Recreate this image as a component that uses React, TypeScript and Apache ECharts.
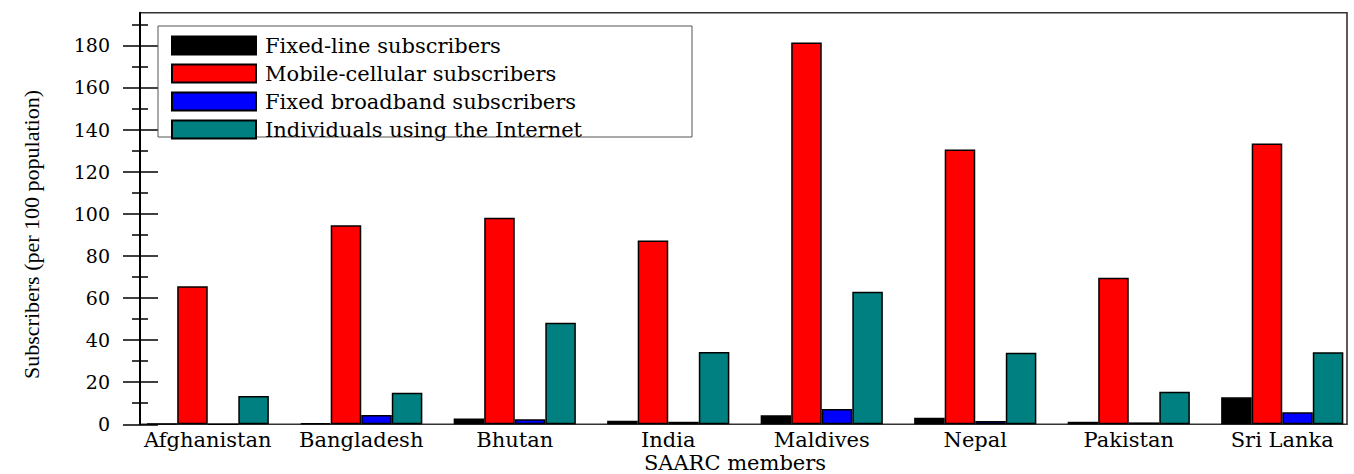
import React, { useEffect, useRef } from "react";
import * as echarts from "echarts";

const categories = ["Afghanistan", "Bangladesh", "Bhutan", "India", "Maldives", "Nepal", "Pakistan", "Sri Lanka"];
const seriesNames = [
  "Fixed-line subscribers",
  "Mobile-cellular subscribers",
  "Fixed broadband subscribers",
  "Individuals using the Internet",
];
const fixedLine = [0.3, 0.6, 2.8, 1.7, 4.3, 3.1, 1.2, 12.8];
const mobileCellular = [65.6, 94.6, 98.1, 87.3, 181.4, 130.5, 69.6, 133.4];
const fixedBroadband = [0, 4.4, 2.4, 1.2, 7.3, 1.6, 0.9, 5.7];
const internetUsers = [13.4, 15.0, 48.2, 34.3, 62.9, 34.0, 15.5, 34.2];
const seriesColors = ["#000000", "#ff0000", "#0000ff", "#008080"];
const majorTicks = [0, 20, 40, 60, 80, 100, 120, 140, 160, 180];
const minorTicks = [10, 30, 50, 70, 90, 110, 130, 150, 170, 190];

const SERIF = "DejaVu Serif";

export default function App() {
  const ref = useRef<HTMLDivElement>(null);
  useEffect(() => {
    if (!ref.current) return;
    const chart = echarts.init(ref.current, null, { renderer: "svg" });
    const yBase = {
      type: "value",
      min: 0,
      max: 195.5,
      position: "left",
      offset: -9,
      splitLine: { show: false },
    };
    const tickStyle = { color: "#000", width: 1.5 };
    const values = [fixedLine, mobileCellular, fixedBroadband, internetUsers];
    chart.setOption({
      animation: false,
      backgroundColor: "#ffffff",
      grid: { left: 131, top: 12.7, width: 1228, height: 411.6, containLabel: false, outerBoundsMode: "none" },
      legend: {
        orient: "vertical",
        left: 158,
        top: 26,
        z: 4,
        icon: "rect",
        itemWidth: 84,
        itemHeight: 18,
        itemGap: 7,
        padding: [9, 12, 9, 13],
        borderWidth: 0,
        selectedMode: false,
        data: seriesNames,
        textStyle: {
          fontFamily: SERIF,
          fontSize: 21,
          color: "#000",
          padding: [0, 0, 0, 4],
        },
      },
      xAxis: {
        type: "category",
        data: categories,
        axisLine: { show: false },
        axisTick: { show: false },
        axisLabel: { fontFamily: SERIF, fontSize: 21, lineHeight: 19, color: "#000", margin: 6, interval: 0 },
        name: "SAARC members",
        nameLocation: "middle",
        nameGap: 29,
        nameMoveOverlap: false,
        nameTextStyle: { fontFamily: SERIF, fontSize: 21, lineHeight: 19, color: "#000", padding: [0, 20, 0, 0] },
      },
      yAxis: [
        {
          ...yBase,
          axisLine: { show: true, lineStyle: { color: "#000", width: 2 } },
          axisTick: { show: true, inside: false, length: 17, customValues: majorTicks, lineStyle: tickStyle },
          axisLabel: { customValues: majorTicks, margin: 30, fontFamily: SERIF, fontSize: 19, color: "#000" },
          name: "Subscribers (per 100 population)",
          nameLocation: "middle",
          nameGap: 98,
          nameMoveOverlap: false,
          nameTextStyle: { fontFamily: "Liberation Serif", fontSize: 22, color: "#000", padding: [0, 32, 0, 0] },
        },
        {
          ...yBase,
          axisLine: { show: false },
          axisTick: { show: true, inside: true, length: 18, customValues: majorTicks, lineStyle: tickStyle },
          axisLabel: { show: false },
        },
        {
          ...yBase,
          axisLine: { show: false },
          axisTick: { show: true, inside: false, length: 8, customValues: minorTicks, lineStyle: tickStyle },
          axisLabel: { show: false },
        },
        {
          ...yBase,
          axisLine: { show: false },
          axisTick: { show: true, inside: true, length: 8, customValues: minorTicks, lineStyle: tickStyle },
          axisLabel: { show: false },
        },
      ],
      graphic: [
        {
          type: "rect",
          z: 0,
          silent: true,
          shape: { x: 140, y: 12.7, width: 1207, height: 411.6 },
          style: { fill: "none", stroke: "#333", lineWidth: 1.6 },
        },
        {
          type: "rect",
          z: 3,
          silent: true,
          shape: { x: 158, y: 26, width: 534, height: 111 },
          style: { fill: "#fff", stroke: "#555", lineWidth: 1 },
        },
      ],
      series: seriesNames.map((name, i) => ({
        name,
        type: "bar",
        yAxisIndex: 0,
        data: values[i],
        barGap: "0%",
        barCategoryGap: "20.4%",
        itemStyle: { color: seriesColors[i], borderColor: "#000", borderWidth: 1.5 },
      })),
    });
    return () => chart.dispose();
  }, []);
  return (
    <div
      ref={ref}
      style={{ position: "fixed", left: 0, top: 0, width: 1354, height: 474, background: "#fff" }}
    />
  );
}
